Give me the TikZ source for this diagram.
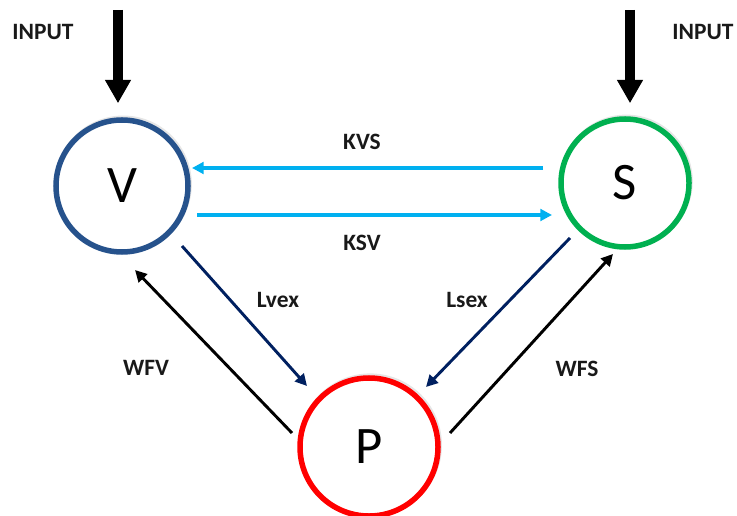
\documentclass[tikz,border=0pt]{standalone}
\usepackage{fontspec}
\usepackage{xcolor}
\usepackage{tikz}
\usetikzlibrary{arrows.meta,calc,positioning,shadows}
\newfontfamily\carlito{Carlito}
\definecolor{vblue}{RGB}{38,82,140}
\definecolor{sgreen}{RGB}{0,176,80}
\definecolor{pred}{RGB}{255,0,0}
\definecolor{kcyan}{RGB}{0,176,240}
\definecolor{lnavy}{RGB}{0,32,96}

\begin{document}
\begin{tikzpicture}[x=0.03cm,y=-0.03cm,
	pool/.style={circle,draw,line width=0.165cm,fill=white,inner sep=0pt,
		drop shadow={shadow xshift=1pt,shadow yshift=1.5pt,shadow scale=1.04,opacity=.2},
		font=\carlito\fontsize{45}{45}\selectfont},
	rate/.style={font=\carlito\bfseries\fontsize{20}{20}\selectfont,text=black!90},
	inflow/.style={line width=8.5pt,-{Triangle[length=20pt,width=21pt]}},
	kflow/.style={kcyan,line width=2.8pt,-{Triangle[length=10pt,width=10pt]}},
	lflow/.style={lnavy,line width=2.5pt,-{Triangle[length=10pt,width=10pt]}},
	wflow/.style={black,line width=2.5pt,-{Triangle[length=10pt,width=10pt]}}]
	\useasboundingbox (0,0) rectangle (737,516);
	\node[pool,draw=vblue,minimum size=3.96cm] (V) at (122,186) {V};
	\node[pool,draw=sgreen,minimum size=3.84cm] (S) at (625,183) {S};
	\node[pool,draw=pred,minimum size=4.14cm] (P) at (369,447) {P};
	\node[rate] (inVlabel) at (43,32) {INPUT};
	\node[rate] (inSlabel) at (703,32) {INPUT};
	\node[rate] (kvs) at (362,142) {KVS};
	\node[rate] (ksv) at (362,243) {KSV};
	\node[rate] (lvex) at (278,300) {Lvex};
	\node[rate] (lsex) at (467,300) {Lsex};
	\node[rate] (wfv) at (146,368) {WFV};
	\node[rate] (wfs) at (577,369) {WFS};
	\coordinate (inV) at (118,10);
	\coordinate (inS) at (630,10);
	\draw[inflow] (inV) -- ($(V.north)+(-4,-14)$);
	\draw[inflow] (inS) -- ($(S.north)+(5,-13)$);
	\draw[kflow] ($(S)+(-82,-15)$) -- ($(V)+(70,-18)$);
	\draw[kflow] ($(V)+(75,29)$) -- ($(S)+(-73,32)$);
	\draw[lflow] ($(V)+(60,60)$) -- ($(P)+(-62,-61)$);
	\draw[lflow] ($(S)+(-55,55)$) -- ($(P)+(57,-60)$);
	\draw[wflow] ($(P)+(-77,-14)$) -- ($(V)+(13,84)$);
	\draw[wflow] ($(P)+(81,-14)$) -- ($(S)+(-12,71)$);
\end{tikzpicture}
\end{document}
